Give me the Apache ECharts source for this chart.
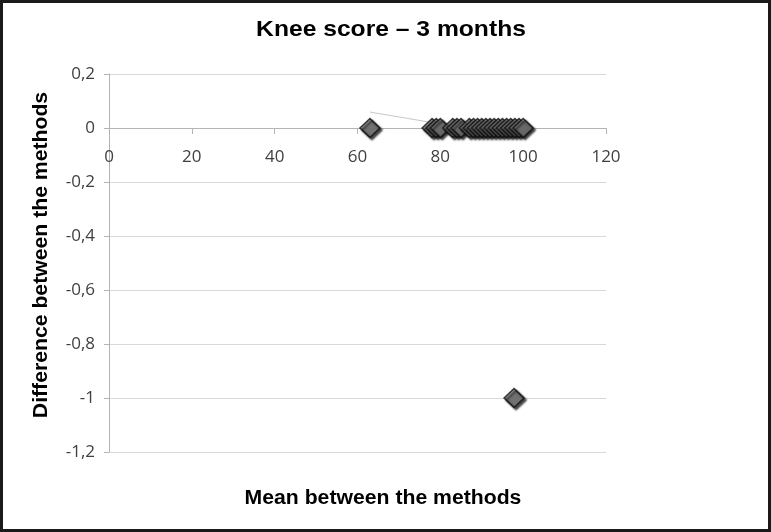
<!DOCTYPE html>
<html>
<head>
<meta charset="utf-8">
<script src="https://cdn.jsdelivr.net/npm/echarts@6/dist/echarts.min.js"></script>
<style>
  html, body { margin: 0; padding: 0; background: #fff; }
  #chart { width: 771px; height: 532px; }
</style>
</head>
<body>
<div id="chart"></div>
<script>
const titleText = 'Knee score \u2013 3 months';
const xTitle = 'Mean between the methods';
const yTitle = 'Difference between the methods';

// Bland-Altman points: mean between methods (x), difference (y)
const meanValues = [63, 78, 79, 80, 83, 84, 85, 87, 88, 89, 90, 91, 92, 93, 94, 95, 96, 97, 98, 99, 100, 97.8];
const diffValues = [0, 0, 0, 0, 0, 0, 0, 0, 0, 0, 0, 0, 0, 0, 0, 0, 0, 0, 0, 0, 0, -1];

// faint trend line (end points)
const trendX = [63, 99];
const trendY = [0.059, -0.034];

const xTicks = [0, 20, 40, 60, 80, 100, 120];
const yTicks = [0.2, 0, -0.2, -0.4, -0.6, -0.8, -1, -1.2];

const points = meanValues.map((m, i) => [m, diffValues[i]]);
const trend = trendX.map((x, i) => [x, trendY[i]]);

const gridTop = 74, gridBottom = 80, chartH = 532;
const yMin = yTicks[yTicks.length - 1], yMax = yTicks[0];
const plotH = chartH - gridTop - gridBottom;
// move the x axis up so that it crosses the y axis at 0
const xAxisOffset = -plotH * (0 - yMin) / (yMax - yMin);

const chart = echarts.init(document.getElementById('chart'));
const labelFont = 'Open Sans';
chart.setOption({
  animation: false,
  backgroundColor: '#ffffff',
  grid: { left: 109, right: 165, top: gridTop, bottom: gridBottom, containLabel: false },
  xAxis: {
    type: 'value',
    position: 'bottom',
    offset: xAxisOffset,
    min: xTicks[0],
    max: xTicks[xTicks.length - 1],
    interval: xTicks[1] - xTicks[0],
    axisLine: { onZero: false, lineStyle: { color: '#b4b4b4', width: 1 } },
    axisTick: { show: true, inside: false, length: 6, lineStyle: { color: '#b4b4b4' } },
    axisLabel: { color: '#404040', fontSize: 17, fontFamily: labelFont, margin: 21 },
    splitLine: { show: false }
  },
  yAxis: {
    type: 'value',
    min: yMin,
    max: yMax,
    interval: 0.2,
    axisLine: { show: true, onZero: false, lineStyle: { color: '#b4b4b4', width: 1 } },
    axisTick: { show: true, length: 5, lineStyle: { color: '#b4b4b4' } },
    axisLabel: {
      color: '#404040', fontSize: 17, fontFamily: labelFont, margin: 14,
      formatter: v => String(Number(v.toFixed(1))).replace('.', ',')
    },
    splitLine: { show: true, lineStyle: { color: '#d9d9d9', width: 1 } }
  },
  series: [
    {
      type: 'line',
      data: trend,
      symbol: 'none',
      lineStyle: { color: '#c8c8c8', width: 1 },
      z: 1
    },
    {
      type: 'scatter',
      data: points,
      symbol: 'diamond',
      symbolSize: [20, 19],
      itemStyle: {
        color: '#7c7c7c',
        borderColor: '#111111',
        borderWidth: 1.5,
        shadowColor: 'rgba(0,0,0,0.9)',
        shadowBlur: 2,
        shadowOffsetX: 2,
        shadowOffsetY: 2
      },
      z: 3
    }
  ],
  graphic: [
    {
      type: 'rect', silent: true,
      shape: { x: 1.5, y: 1.5, width: 768, height: 529 },
      style: { fill: 'none', stroke: '#1a1a1a', lineWidth: 3 }
    },
    {
      type: 'text', x: 391, y: 30, scaleX: 1.12,
      style: { text: titleText, fill: '#000', font: 'bold 22px "Liberation Sans", Arial, sans-serif', textAlign: 'center', textVerticalAlign: 'middle' }
    },
    {
      type: 'text', x: 383, y: 498, scaleX: 1.06,
      style: { text: xTitle, fill: '#000', font: 'bold 20px "Liberation Sans", Arial, sans-serif', textAlign: 'center', textVerticalAlign: 'middle' }
    },
    {
      type: 'text', x: 41, y: 255, rotation: Math.PI / 2, scaleX: 1.06,
      style: { text: yTitle, fill: '#000', font: 'bold 20px "Liberation Sans", Arial, sans-serif', textAlign: 'center', textVerticalAlign: 'middle' }
    }
  ]
});
</script>
</body>
</html>
